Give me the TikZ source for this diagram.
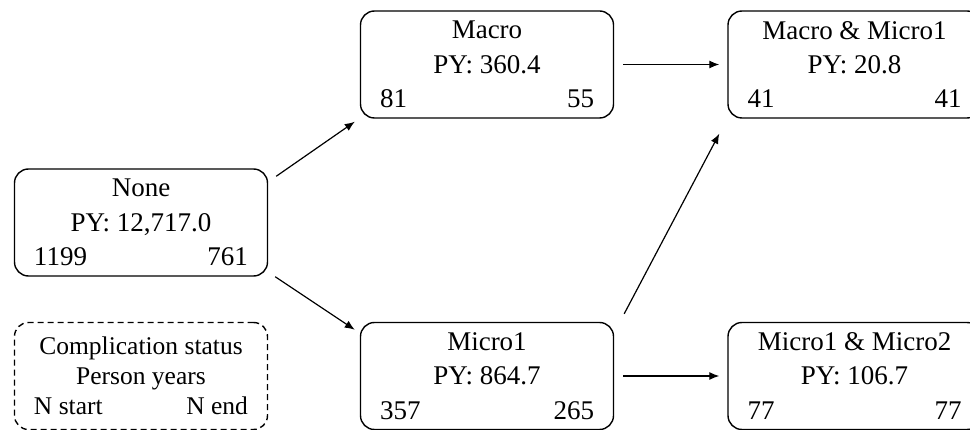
\documentclass[tikz,border=0pt]{standalone}
\usepackage{fontspec}
\setmainfont{Liberation Serif}
\usetikzlibrary{arrows.meta}
\newcommand{\nrow}[2]{\makebox[214pt]{#1\hfill #2}}

\begin{document}
\begin{tikzpicture}[x=1pt,y=-1pt,
status/.style={rectangle,draw,line width=1.4pt,rounded corners=14pt,
minimum width=253pt,
minimum height=107pt,inner sep=0pt,align=center,
font=\fontsize{27}{34.25}\selectfont,
execute at begin node={\rule{0pt}{22.5pt}}},
legendbox/.style={status,dash pattern=on 6pt off 4pt,
font=\fontsize{25.5}{30}\selectfont,
execute at begin node={}},
seta/.style={line width=1.2pt,-{Latex[length=10pt,width=8pt]}}
]
\clip (0,0) rectangle (970,430);

% estados
\node[status] (none) at (141,222.5) {None\\PY: 12,717.0\\\nrow{1199}{761}};
\node[status] (macro) at (487,64.5) {Macro\\PY: 360.4\\\nrow{81}{55}};
\node[status] (micro1) at (487,376) {Micro1\\PY: 864.7\\\nrow{357}{265}};
\node[status] (macromicro) at (854.5,64.5) {Macro \& Micro1\\PY: 20.8\\\nrow{41}{41}};
\node[status] (micromicro) at (854.5,376) {Micro1 \& Micro2\\PY: 106.7\\\nrow{77}{77}};
\node[legendbox] (legend) at (141,376) {Complication status\\Person years\\\nrow{N start}{N end}};

% transicoes
\draw[seta] ([shift={(8,8)}]none.north east) -- ([shift={(-5,3)}]macro.south west);
\draw[seta] ([shift={(7,0)}]none.south east) -- ([shift={(-5,8)}]micro1.north west);
\draw[seta,shorten <=9pt,shorten >=8pt] (macro) -- (macromicro);
\draw[seta] ([shift={(10,-8)}]micro1.north east) -- ([shift={(-8,15)}]macromicro.south west);
\draw[seta,shorten <=9pt,shorten >=8pt] (micro1) -- (micromicro);

\end{tikzpicture}
\end{document}
